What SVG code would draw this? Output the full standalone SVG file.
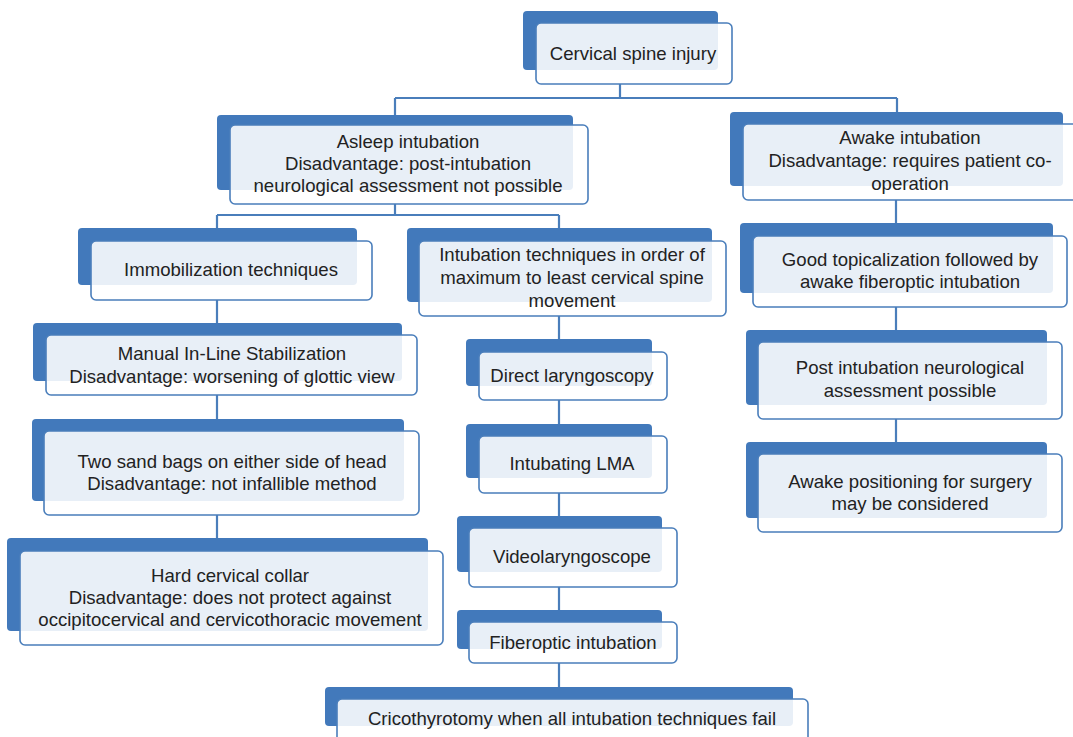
<svg xmlns="http://www.w3.org/2000/svg" width="1073" height="737" viewBox="0 0 1073 737">
<style>
.bk{fill:#4279bb}
.fr{fill:#ffffff;fill-opacity:0.88;stroke:#4a7ebb;stroke-width:1.6}
.t{font-family:"Liberation Sans",Arial,sans-serif;font-size:18.6px;fill:#222222;text-anchor:middle}
.c{fill:none;stroke:#4a7ebb;stroke-width:2.2}
</style>
<rect width="1073" height="737" fill="#ffffff"/>
<g id="connectors">
<path class="c" d="M620 84V98M395 98H897M395 98V118M897 98V112"/>
<path class="c" d="M395 204V215M217 215H559M217 215V228M559 215V228"/>
<path class="c" d="M217 300V323M217 395V419M217 515V538"/>
<path class="c" d="M559 316V339M559 400V424M559 493V516M559 587V610M559 663V687"/>
<path class="c" d="M896 200V223M896 307V330M896 419V442"/>
</g>
<g id="n-cervical">
<rect class="bk" x="523" y="11" width="195" height="59" rx="4"/>
<rect class="fr" x="536" y="23" width="196" height="61" rx="5"/>
<text class="t" x="633" y="60">Cervical spine injury</text>
</g>
<g id="n-asleep">
<rect class="bk" x="217" y="115" width="356" height="75" rx="4"/>
<rect class="fr" x="230" y="125" width="358" height="79" rx="5"/>
<text class="t" x="408" y="148">Asleep intubation</text>
<text class="t" x="408" y="170">Disadvantage: post-intubation</text>
<text class="t" x="408" y="192">neurological assessment not possible</text>
</g>
<g id="n-awake">
<rect class="bk" x="730" y="112" width="333" height="74" rx="4"/>
<rect class="fr" x="743" y="124" width="336" height="76" rx="5"/>
<text class="t" x="910" y="144">Awake intubation</text>
<text class="t" x="910" y="167">Disadvantage: requires patient co-</text>
<text class="t" x="910" y="190">operation</text>
</g>
<g id="n-immob">
<rect class="bk" x="78" y="228" width="279" height="57" rx="4"/>
<rect class="fr" x="91" y="241" width="281" height="59" rx="5"/>
<text class="t" x="231" y="276">Immobilization techniques</text>
</g>
<g id="n-techniques">
<rect class="bk" x="407" y="228" width="305" height="74" rx="4"/>
<rect class="fr" x="419" y="241" width="307" height="75" rx="5"/>
<text class="t" x="572" y="261">Intubation techniques in order of</text>
<text class="t" x="572" y="284">maximum to least cervical spine</text>
<text class="t" x="572" y="307">movement</text>
</g>
<g id="n-topical">
<rect class="bk" x="740" y="223" width="313" height="70" rx="4"/>
<rect class="fr" x="753" y="236" width="314" height="71" rx="5"/>
<text class="t" x="910" y="266">Good topicalization followed by</text>
<text class="t" x="910" y="288">awake fiberoptic intubation</text>
</g>
<g id="n-manual">
<rect class="bk" x="33" y="323" width="369" height="58" rx="4"/>
<rect class="fr" x="46" y="335" width="371" height="60" rx="5"/>
<text class="t" x="232" y="360">Manual In-Line Stabilization</text>
<text class="t" x="232" y="383">Disadvantage: worsening of glottic view</text>
</g>
<g id="n-sandbags">
<rect class="bk" x="32" y="419" width="372" height="82" rx="4"/>
<rect class="fr" x="44" y="431" width="375" height="84" rx="5"/>
<text class="t" x="232" y="468">Two sand bags on either side of head</text>
<text class="t" x="232" y="490">Disadvantage: not infallible method</text>
</g>
<g id="n-collar">
<rect class="bk" x="7" y="538" width="421" height="93" rx="4"/>
<rect class="fr" x="20" y="551" width="423" height="94" rx="5"/>
<text class="t" x="230" y="582">Hard cervical collar</text>
<text class="t" x="230" y="604">Disadvantage: does not protect against</text>
<text class="t" x="230" y="626">occipitocervical and cervicothoracic movement</text>
</g>
<g id="n-direct">
<rect class="bk" x="466" y="339" width="186" height="47" rx="4"/>
<rect class="fr" x="479" y="352" width="188" height="48" rx="5"/>
<text class="t" x="572" y="382">Direct laryngoscopy</text>
</g>
<g id="n-lma">
<rect class="bk" x="466" y="424" width="186" height="54" rx="4"/>
<rect class="fr" x="479" y="436" width="188" height="57" rx="5"/>
<text class="t" x="572" y="470">Intubating LMA</text>
</g>
<g id="n-video">
<rect class="bk" x="457" y="516" width="205" height="56" rx="4"/>
<rect class="fr" x="469" y="528" width="208" height="59" rx="5"/>
<text class="t" x="572" y="563">Videolaryngoscope</text>
</g>
<g id="n-fiberoptic">
<rect class="bk" x="457" y="610" width="205" height="39" rx="4"/>
<rect class="fr" x="469" y="622" width="208" height="41" rx="5"/>
<text class="t" x="573" y="649">Fiberoptic intubation</text>
</g>
<g id="n-crico">
<rect class="bk" x="325" y="687" width="468" height="39" rx="4"/>
<rect class="fr" x="337" y="699" width="471" height="60" rx="5"/>
<text class="t" x="572" y="725">Cricothyrotomy when all intubation techniques fail</text>
</g>
<g id="n-post">
<rect class="bk" x="746" y="330" width="301" height="75" rx="4"/>
<rect class="fr" x="758" y="342" width="304" height="77" rx="5"/>
<text class="t" x="910" y="374">Post intubation neurological</text>
<text class="t" x="910" y="397">assessment possible</text>
</g>
<g id="n-positioning">
<rect class="bk" x="746" y="442" width="301" height="76" rx="4"/>
<rect class="fr" x="758" y="454" width="304" height="78" rx="5"/>
<text class="t" x="910" y="488">Awake positioning for surgery</text>
<text class="t" x="910" y="510">may be considered</text>
</g>
</svg>
